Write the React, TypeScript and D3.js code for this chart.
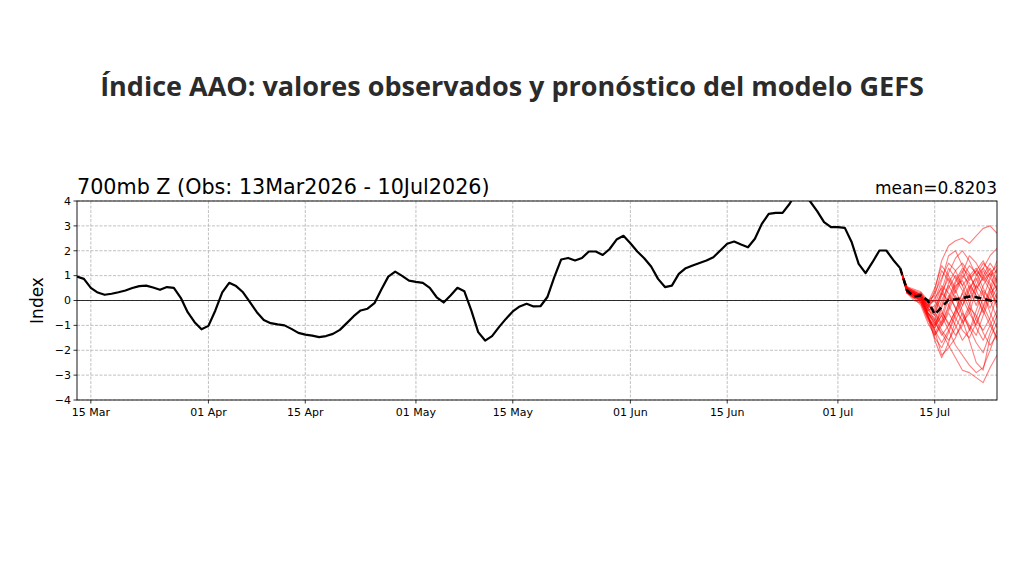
import React from "react";
import * as d3 from "d3";

// Observed daily AAO index, one value per day starting 13 Mar 2026
const obsStart = Date.UTC(2026, 2, 13);
const obsValues: number[] = [
  0.96, 0.87, 0.51, 0.32, 0.23, 0.27, 0.33, 0.4, 0.5, 0.58,
  0.6, 0.52, 0.43, 0.54, 0.51, 0.11, -0.47, -0.87, -1.16, -1.02,
  -0.4, 0.33, 0.71, 0.58, 0.33, -0.07, -0.47, -0.78, -0.91, -0.96,
  -1.0, -1.14, -1.3, -1.37, -1.41, -1.47, -1.43, -1.34, -1.18, -0.91,
  -0.63, -0.4, -0.33, -0.11, 0.44, 0.96, 1.16, 0.99, 0.8, 0.75,
  0.71, 0.51, 0.13, -0.08, 0.2, 0.51, 0.37, -0.4, -1.27, -1.61,
  -1.43, -1.07, -0.74, -0.44, -0.24, -0.13, -0.24, -0.23, 0.14, 0.94,
  1.65, 1.71, 1.61, 1.71, 1.97, 1.97, 1.83, 2.07, 2.45, 2.6,
  2.3, 1.97, 1.7, 1.37, 0.87, 0.54, 0.6, 1.07, 1.3, 1.41,
  1.51, 1.61, 1.74, 2.01, 2.28, 2.37, 2.25, 2.14, 2.48, 3.08,
  3.48, 3.52, 3.52, 3.88, 4.35, 4.4, 3.98, 3.59, 3.15, 2.95,
  2.95, 2.92, 2.34, 1.47, 1.1, 1.54, 2.01, 2.01, 1.63, 1.3,
];

// GEFS forecast, daily from 10 Jul 2026
const fcstStart = Date.UTC(2026, 6, 10);
const ensembleMean: number[] = [
  1.3, 0.4, 0.16, 0.2, 0.0, -0.56, -0.27, 0.03, 0.05, 0.1, 0.16, 0.13, 0.07, 0.0, -0.04,
];
const members: number[][] = [
  [1.3, 0.45, 0.35, 0.2, -0.3, 0.4, 1.6, 2.2, 2.4, 2.5, 2.3, 2.6, 2.9, 3.0, 2.7],
  [1.3, 0.3, 0.1, 0.3, -0.6, -1.2, -2.2, -1.9, -1.5, -0.8, -1.6, -2.5, -2.8, -1.5, -0.9],
  [1.3, 0.5, 0.2, 0.0, -0.5, -0.9, -1.3, -1.8, -2.3, -2.8, -2.9, -3.1, -3.3, -2.7, -2.2],
  [1.3, 0.4, 0.3, -0.1, -0.7, -1.0, -0.6, -1.2, -1.8, -2.2, -2.6, -2.9, -2.7, -2.0, -1.2],
  [1.3, 0.35, 0.25, 0.1, -0.6, -1.6, -2.3, -1.7, -0.8, -0.2, 0.5, 0.9, 0.3, -0.5, -1.1],
  [1.3, 0.5, 0.4, 0.2, -0.2, 0.3, 0.9, 1.5, 1.2, 0.6, 1.0, 1.3, 0.8, 1.1, 1.4],
  [1.3, 0.3, 0.2, 0.3, -0.1, -0.5, 0.2, 1.1, 1.7, 2.0, 1.6, 1.0, 1.3, 1.8, 2.1],
  [1.3, 0.4, 0.1, -0.2, -0.9, -1.4, -0.9, -0.3, 0.4, 1.0, 0.7, 0.2, -0.4, -1.0, -1.5],
  [1.3, 0.45, 0.3, 0.1, -0.4, -0.2, 0.6, 0.3, -0.3, -0.9, -0.5, 0.4, 1.0, 0.6, 0.1],
  [1.3, 0.35, 0.15, 0.2, -0.3, -0.8, -1.4, -1.0, -0.4, 0.3, 0.9, 1.2, 0.9, 0.4, -0.2],
  [1.3, 0.55, 0.45, 0.35, 0.0, 0.2, 1.2, 0.8, 0.3, 0.9, 1.4, 1.1, 0.5, 0.0, 0.5],
  [1.3, 0.3, 0.0, -0.1, -0.8, -1.1, -0.3, 0.5, 1.0, 0.6, -0.1, -0.8, -1.2, -0.7, 0.2],
  [1.3, 0.4, 0.3, 0.0, -0.5, -0.7, -1.2, -1.6, -1.1, -0.5, -1.0, -1.4, -0.6, 0.1, 0.9],
  [1.3, 0.5, 0.25, 0.15, -0.3, 0.1, 0.5, -0.2, -0.7, -1.2, -1.5, -0.9, -0.3, 0.4, 1.0],
  [1.3, 0.35, 0.2, -0.05, -0.6, -1.3, -0.8, 0.1, 0.8, 1.3, 1.0, 0.5, 0.9, 1.3, 0.8],
  [1.3, 0.45, 0.35, 0.25, -0.2, -0.4, 0.4, 1.3, 0.9, 0.4, 0.0, 0.6, 1.2, 0.7, -0.3],
  [1.3, 0.4, 0.2, 0.1, -0.5, -0.9, -0.5, -0.9, -1.4, -1.0, -0.3, -0.6, -1.3, -1.8, -1.4],
  [1.3, 0.3, 0.1, 0.05, -0.7, -1.5, -1.9, -1.3, -0.6, 0.0, 0.6, 0.2, -0.5, 0.3, 0.6],
  [1.3, 0.5, 0.3, 0.2, -0.2, 0.0, -0.4, -1.0, -0.4, 0.3, -0.3, -1.1, -1.6, -1.0, -0.4],
  [1.3, 0.45, 0.35, 0.1, -0.4, -0.6, 0.3, 0.9, 0.4, -0.2, 0.4, 1.0, 1.5, 1.2, 0.7],
  [1.3, 0.5, 0.4, 0.3, -0.1, 0.0, 0.8, 1.8, 2.0, 1.4, 0.8, 1.2, 1.6, 1.0, 1.2],
  [1.3, 0.35, 0.2, 0.1, -0.5, -1.0, -0.2, 0.7, 1.2, 1.5, 1.1, 0.4, -0.2, 0.5, 1.3],
  [1.3, 0.4, 0.25, 0.2, -0.3, -0.6, -1.0, -0.4, 0.2, -0.4, -1.2, -0.7, 0.1, 0.9, 0.5],
  [1.3, 0.45, 0.3, 0.0, -0.6, -1.2, -1.7, -1.2, -0.5, 0.1, -0.5, -1.0, -0.2, -0.8, -1.6],
  [1.3, 0.55, 0.35, 0.25, -0.1, 0.5, 1.4, 1.0, 0.5, 1.1, 1.8, 1.5, 1.0, 1.5, 1.1],
  [1.3, 0.3, 0.15, -0.1, -0.7, -1.1, -0.6, 0.2, -0.3, -0.8, -0.2, 0.6, 0.2, -0.3, 0.3],
  [1.3, 0.4, 0.3, 0.15, -0.4, -0.3, 0.3, 0.0, 0.7, 1.2, 0.5, -0.2, 0.6, 1.1, 0.4],
  [1.3, 0.5, 0.2, 0.05, -0.5, -0.8, 0.0, 0.6, 0.1, -0.6, -1.1, -1.7, -2.1, -1.3, -0.6],
  [1.3, 0.35, 0.3, 0.2, -0.2, -0.5, -0.9, -0.2, 0.6, 0.8, 0.2, 0.8, 1.3, 0.9, 1.6],
  [1.3, 0.45, 0.2, 0.1, -0.6, -1.4, -1.0, -0.5, -1.0, -1.6, -1.2, -0.4, 0.4, 0.0, -0.7],
];

const xTickDates: number[] = [
  Date.UTC(2026, 2, 15), Date.UTC(2026, 3, 1), Date.UTC(2026, 3, 15),
  Date.UTC(2026, 4, 1), Date.UTC(2026, 4, 15), Date.UTC(2026, 5, 1),
  Date.UTC(2026, 5, 15), Date.UTC(2026, 6, 1), Date.UTC(2026, 6, 15),
];
const yTicks: number[] = [-4, -3, -2, -1, 0, 1, 2, 3, 4];

const pageTitle = "Índice AAO: valores observados y pronóstico del modelo GEFS";
const axTitle = "700mb Z (Obs: 13Mar2026 - 10Jul2026)";
const meanLabel = "mean=0.8203";

const DAY = 86400000;
const W = 1024;
const H = 585;
const plot = { left: 77, right: 997, top: 201, bottom: 400 };
const mplFont = "'DejaVu Sans', sans-serif";

export default function App() {
  const x = d3
    .scaleUtc()
    .domain([new Date(obsStart), new Date(Date.UTC(2026, 6, 24))])
    .range([plot.left, plot.right]);
  const y = d3.scaleLinear().domain([-4, 4]).range([plot.bottom, plot.top]);

  const line = (start: number) =>
    d3
      .line<number>()
      .x((_, i) => x(new Date(start + i * DAY)))
      .y((v) => y(v));

  const obsPath = line(obsStart)(obsValues) || "";
  const fcstLine = line(fcstStart);
  const fmt = d3.utcFormat("%d %b");
  const minus = (v: number) => (v < 0 ? "\u2212" + Math.abs(v) : String(v));

  return (
    <svg
      width={W}
      height={H}
      style={{ position: "absolute", left: 0, top: 0, background: "#fff" }}
    >
      <defs>
        <clipPath id="plotClip">
          <rect
            x={plot.left}
            y={plot.top}
            width={plot.right - plot.left}
            height={plot.bottom - plot.top}
          />
        </clipPath>
      </defs>
      <rect width={W} height={H} fill="#fff" />

      <text
        x={512}
        y={96}
        textAnchor="middle"
        fontFamily="'Open Sans', sans-serif"
        fontWeight={700}
        fontSize={27}
        fill="#2b2b2b"
      >
        {pageTitle}
      </text>

      {/* grid */}
      <g stroke="#b0b0b0" strokeWidth={0.8} strokeDasharray="3,1.5">
        {xTickDates.map((t) => (
          <line key={"gx" + t} x1={x(new Date(t))} x2={x(new Date(t))} y1={plot.top} y2={plot.bottom} />
        ))}
        {yTicks.map((t) => (
          <line key={"gy" + t} x1={plot.left} x2={plot.right} y1={y(t)} y2={y(t)} />
        ))}
      </g>

      {/* zero line */}
      <line x1={plot.left} x2={plot.right} y1={y(0)} y2={y(0)} stroke="#000" strokeWidth={0.8} />

      <g clipPath="url(#plotClip)" fill="none" strokeLinejoin="round">
        <path d={obsPath} stroke="#000" strokeWidth={2.2} />
        {members.map((m, i) => (
          <path key={"m" + i} d={fcstLine(m) || ""} stroke="#ff0000" strokeOpacity={0.5} strokeWidth={1.1} />
        ))}
        <path
          d={fcstLine(ensembleMean) || ""}
          stroke="#000"
          strokeWidth={2.5}
          strokeDasharray="7,4"
        />
      </g>

      {/* frame */}
      <rect
        x={plot.left}
        y={plot.top}
        width={plot.right - plot.left}
        height={plot.bottom - plot.top}
        fill="none"
        stroke="#000"
        strokeWidth={0.9}
      />

      {/* axes */}
      <g fontFamily={mplFont} fontSize={11} fill="#000">
        {yTicks.map((t) => (
          <g key={"yt" + t}>
            <line x1={plot.left - 3.5} x2={plot.left} y1={y(t)} y2={y(t)} stroke="#000" strokeWidth={0.8} />
            <text x={plot.left - 6} y={y(t)} dy="0.35em" textAnchor="end">
              {minus(t)}
            </text>
          </g>
        ))}
        {xTickDates.map((t) => (
          <g key={"xt" + t}>
            <line x1={x(new Date(t))} x2={x(new Date(t))} y1={plot.bottom} y2={plot.bottom + 3.5} stroke="#000" strokeWidth={0.8} />
            <text x={x(new Date(t))} y={plot.bottom + 16} textAnchor="middle">
              {fmt(new Date(t))}
            </text>
          </g>
        ))}
      </g>

      <text
        transform={`translate(43,${(plot.top + plot.bottom) / 2}) rotate(-90)`}
        textAnchor="middle"
        fontFamily={mplFont}
        fontSize={17}
        fill="#000"
      >
        Index
      </text>

      <text x={plot.left} y={194} fontFamily={mplFont} fontSize={20.7} fill="#000">
        {axTitle}
      </text>
      <text x={plot.right} y={194} textAnchor="end" fontFamily={mplFont} fontSize={17} fill="#000">
        {meanLabel}
      </text>
    </svg>
  );
}
